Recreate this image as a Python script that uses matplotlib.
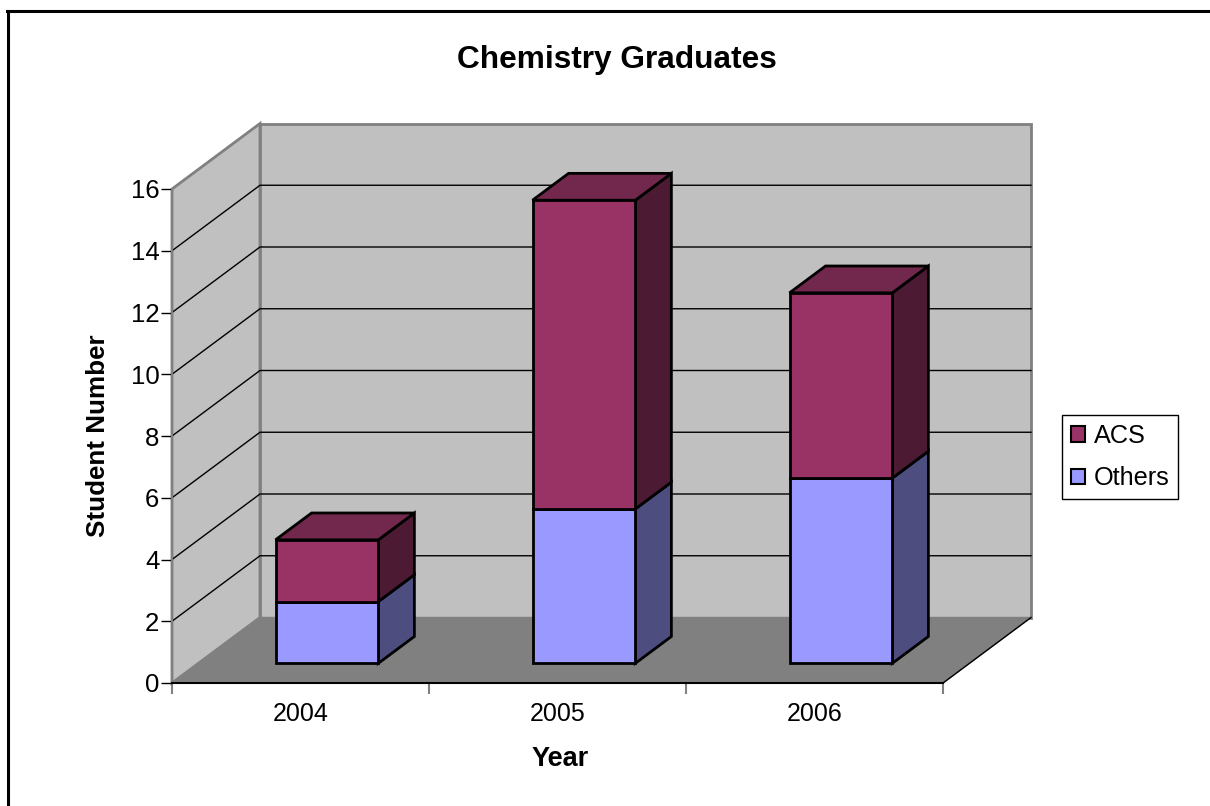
import matplotlib
matplotlib.use("Agg")
import matplotlib.pyplot as plt
from matplotlib.lines import Line2D
from matplotlib.patches import Patch, Polygon

plt.rcParams["font.family"] = ["Liberation Sans", "DejaVu Sans"]

years = ["2004", "2005", "2006"]
others = [2, 5, 6]
acs = [2, 10, 6]
y_ticks = [0, 2, 4, 6, 8, 10, 12, 14, 16]

WALL = "#c0c0c0"
FLOOR = "#808080"
ACS_COLORS = ("#993366", "#72284c", "#4c1a33")
OTHERS_COLORS = ("#9999ff", "#7373bf", "#4d4d80")

# depth of the 3D box, in data units
DEPTH_X = 88 / 257
DEPTH_Y = 65.5 / 30.875
BAR_WIDTH = 0.4
BAR_NEAR = 0.3
BAR_FAR = 0.71


def shift(x, y, d):
    return (x + DEPTH_X * d, y + DEPTH_Y * d)


def draw_block(ax, x0, x1, y0, y1, colors, top=False):
    front, top_c, side = colors
    kw = dict(edgecolor="black", linewidth=2, joinstyle="miter", clip_on=False, zorder=5)
    ax.add_patch(Polygon(
        [shift(x1, y0, BAR_NEAR), shift(x1, y0, BAR_FAR), shift(x1, y1, BAR_FAR), shift(x1, y1, BAR_NEAR)],
        facecolor=side, **kw))
    if top:
        ax.add_patch(Polygon(
            [shift(x0, y1, BAR_NEAR), shift(x1, y1, BAR_NEAR), shift(x1, y1, BAR_FAR), shift(x0, y1, BAR_FAR)],
            facecolor=top_c, **kw))
    ax.add_patch(Polygon(
        [shift(x0, y0, BAR_NEAR), shift(x1, y0, BAR_NEAR), shift(x1, y1, BAR_NEAR), shift(x0, y1, BAR_NEAR)],
        facecolor=front, **kw))


fig = plt.figure(figsize=(12.1, 8.06), dpi=100, facecolor="white")
ax = fig.add_axes([172 / 1210, (806 - 683) / 806, 771 / 1210, 494 / 806])
ax.set_xlim(0, len(years))
ax.set_ylim(0, y_ticks[-1])
ax.patch.set_visible(False)

n = len(years)
top_y = y_ticks[-1]

# side wall, back wall, floor
ax.add_patch(Polygon([(0, 0), shift(0, 0, 1), shift(0, top_y, 1), (0, top_y)],
                     facecolor=WALL, edgecolor=FLOOR, linewidth=2, clip_on=False, zorder=1))
ax.add_patch(Polygon([shift(0, 0, 1), shift(n, 0, 1), shift(n, top_y, 1), shift(0, top_y, 1)],
                     facecolor=WALL, edgecolor=FLOOR, linewidth=2, clip_on=False, zorder=1))
for v in y_ticks[1:-1]:
    pts = [(0, v), shift(0, v, 1), shift(n, v, 1)]
    ax.plot(*zip(*pts), color="black", linewidth=1, clip_on=False, zorder=2)
ax.add_patch(Polygon([(0, 0), (n, 0), shift(n, 0, 1), shift(0, 0, 1)],
                     facecolor=FLOOR, edgecolor=FLOOR, linewidth=1, clip_on=False, zorder=3))
ax.plot(*zip((n, 0), shift(n, 0, 1)), color="black", linewidth=1, clip_on=False, zorder=3)

for i in range(n):
    x0 = i + 0.5 - BAR_WIDTH / 2
    x1 = i + 0.5 + BAR_WIDTH / 2
    draw_block(ax, x0, x1, 0, others[i], OTHERS_COLORS)
    draw_block(ax, x0, x1, others[i], others[i] + acs[i], ACS_COLORS, top=True)

ax.spines["top"].set_visible(False)
ax.spines["right"].set_visible(False)
ax.spines["left"].set_color(FLOOR)
ax.spines["left"].set_linewidth(1.5)
ax.spines["bottom"].set_linewidth(1.5)
for s in ax.spines.values():
    s.set_zorder(4)

ax.set_yticks(y_ticks)
ax.set_xticks(range(n + 1))
ax.set_xticklabels([])
ax.set_xticks([i + 0.5 for i in range(n)], minor=True)
ax.set_xticklabels(years, minor=True)
ax.tick_params(axis="x", which="major", length=8, width=1.5, color=FLOOR)
ax.tick_params(axis="x", which="minor", length=0, pad=13.5, labelsize=18)
ax.tick_params(axis="y", length=8, width=1, pad=1, labelsize=18.5)

fig.text(617 / 1210, 1 - 60 / 806, "Chemistry Graduates", fontsize=22.8, fontweight="bold",
         ha="center", va="center")
fig.text(560 / 1210, 1 - 759 / 806, "Year", fontsize=19.5, fontweight="bold",
         ha="center", va="center")
fig.text(98 / 1210, 1 - 436 / 806, "Student Number", fontsize=18.7, fontweight="bold",
         rotation=90, ha="center", va="center")

handles = [Patch(facecolor=ACS_COLORS[0], edgecolor="black", linewidth=1.5, label="ACS"),
           Patch(facecolor=OTHERS_COLORS[0], edgecolor="black", linewidth=1.5, label="Others")]
leg = fig.legend(handles=handles, loc="center left",
                 bbox_to_anchor=(1062 / 1210, 1 - 457 / 806), fontsize=18.2,
                 fancybox=False, framealpha=1, edgecolor="black",
                 handlelength=0.55, handleheight=0.55, handletextpad=0.35,
                 borderpad=0.35, labelspacing=0.72, borderaxespad=0)
leg.get_frame().set_linewidth(1)

# chart frame, only top and left edges fall inside the image
fig.add_artist(Line2D([7 / 1210, 1], [1 - 11 / 806] * 2, transform=fig.transFigure,
                      color="black", linewidth=2.2))
fig.add_artist(Line2D([8 / 1210] * 2, [0, 1 - 11 / 806], transform=fig.transFigure,
                      color="black", linewidth=2.2))

fig.savefig("out.png", dpi=100, facecolor="white")
